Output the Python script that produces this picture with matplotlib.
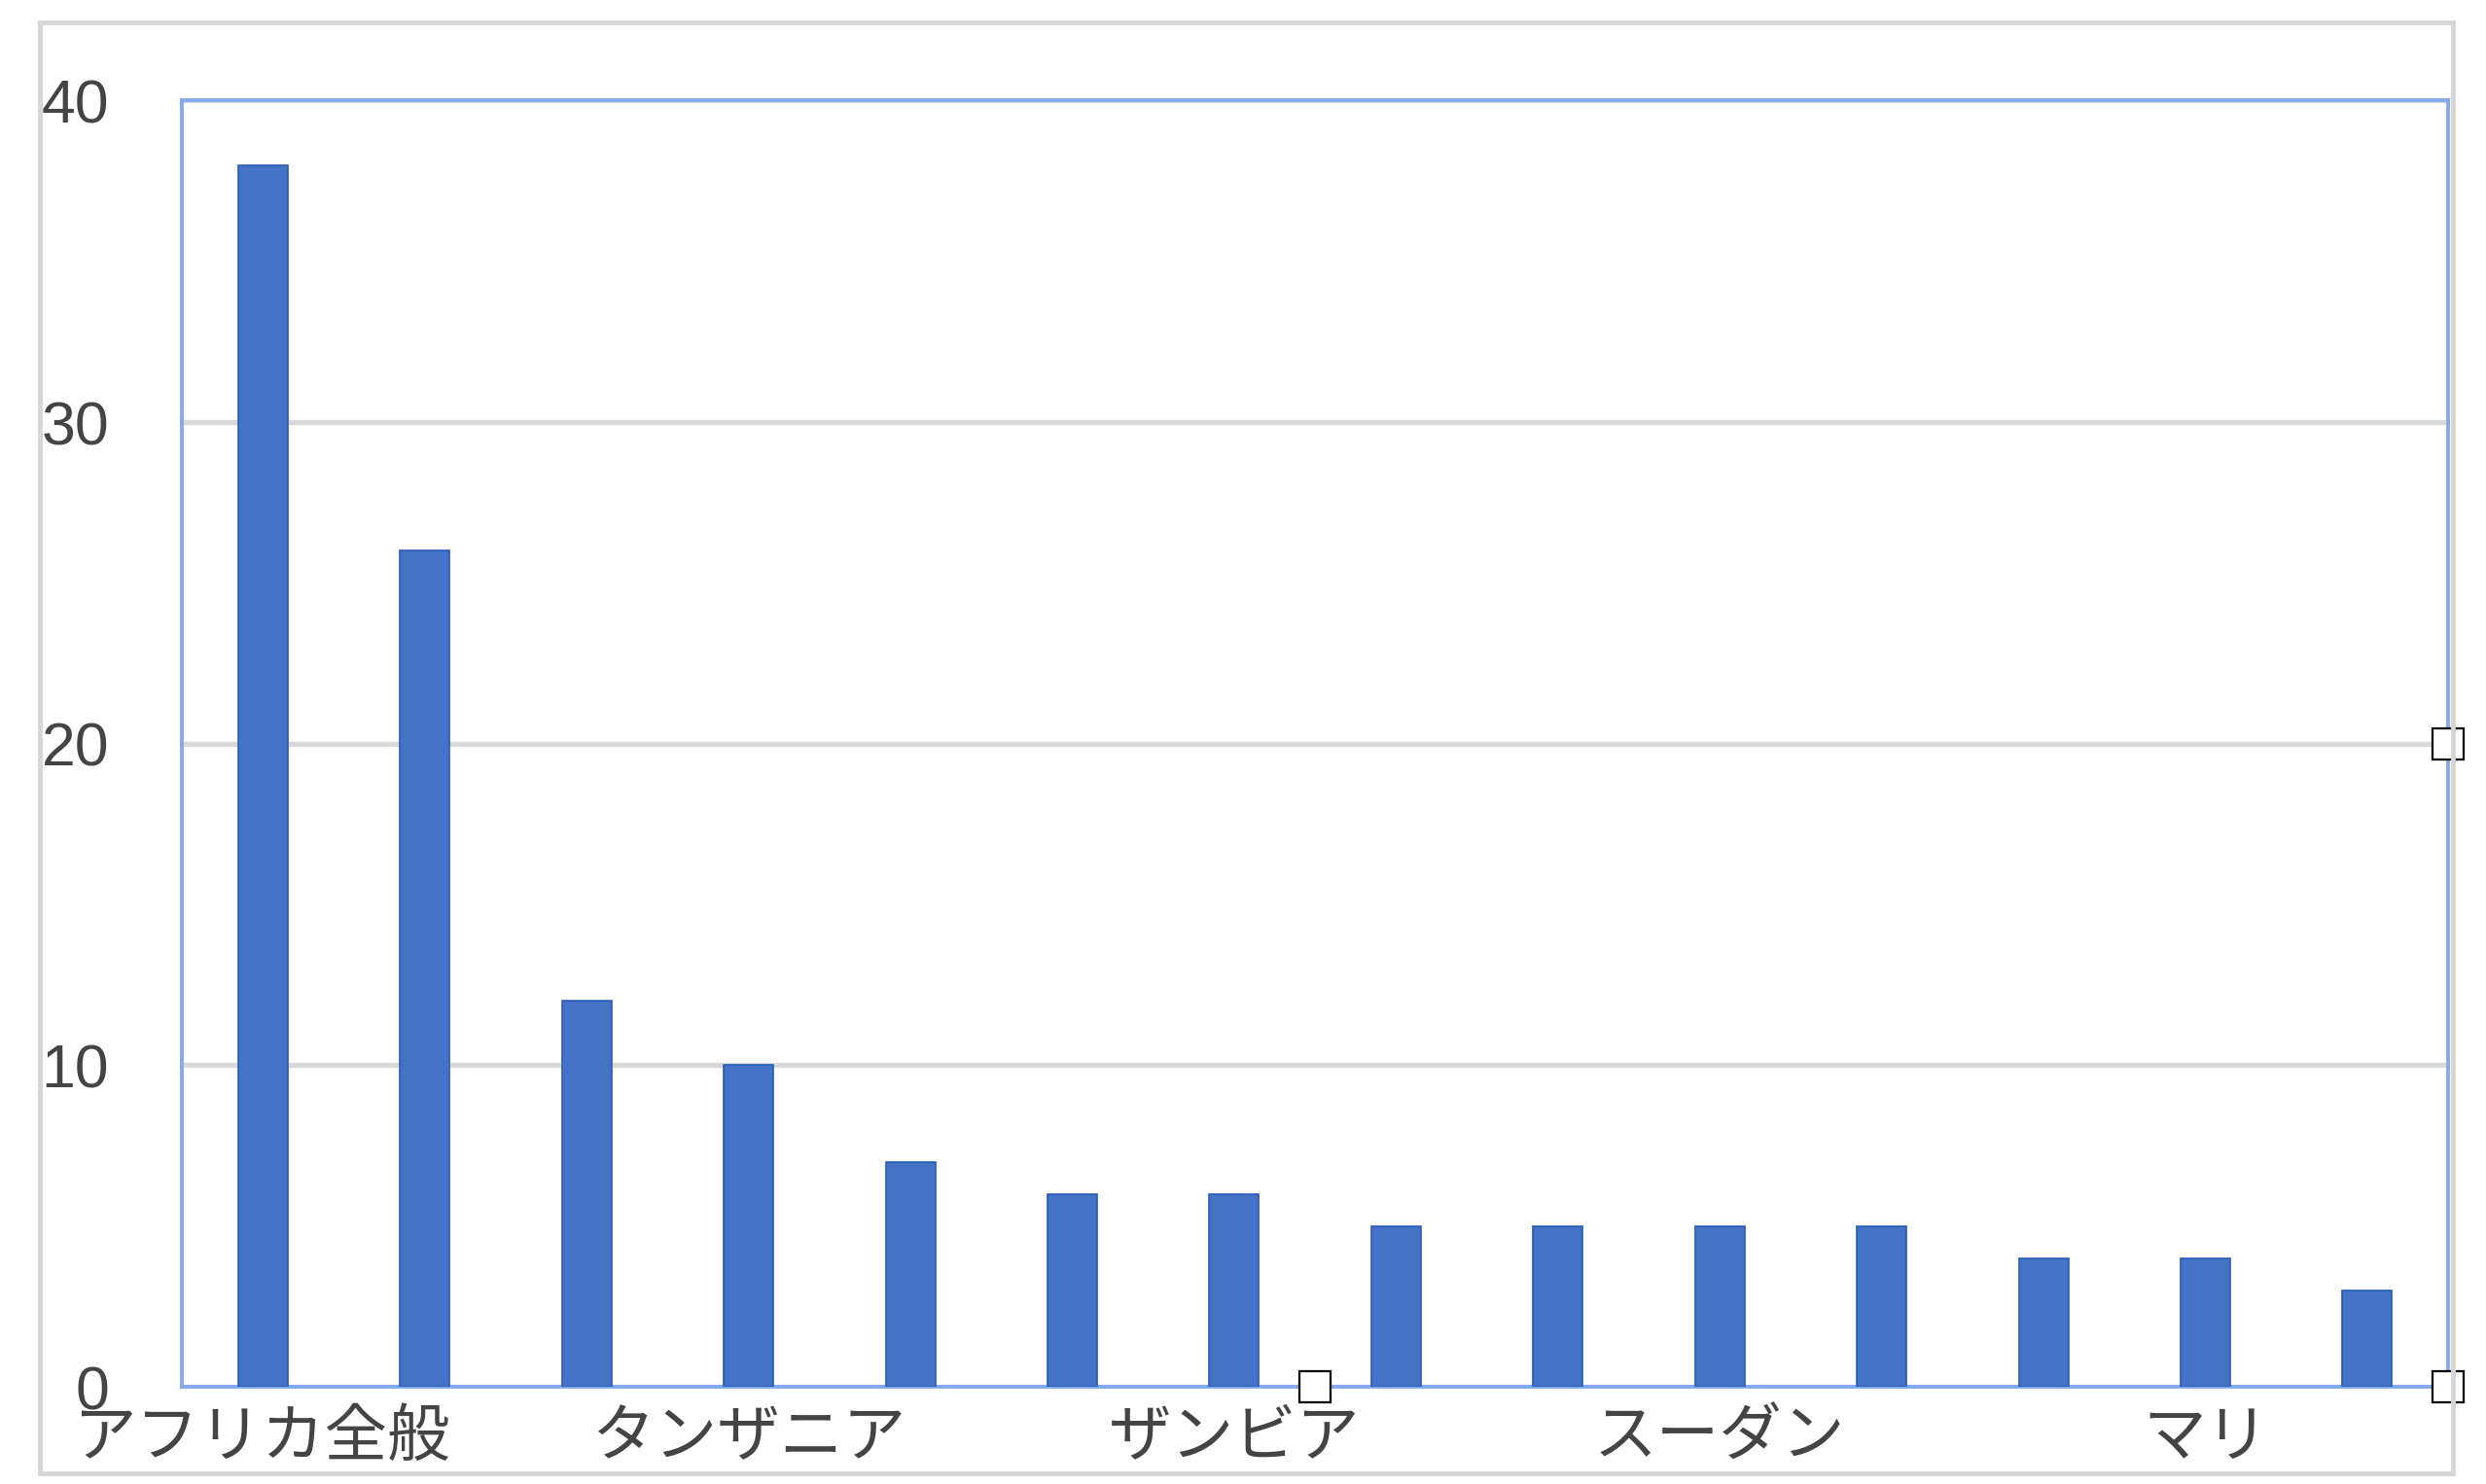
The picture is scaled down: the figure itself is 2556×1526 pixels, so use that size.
import matplotlib
matplotlib.use("Agg")
import matplotlib.pyplot as plt
from matplotlib.patches import Rectangle

plt.rcParams['font.family'] = ['Liberation Sans', 'Noto Sans CJK JP', 'DejaVu Sans']

# data
categories = ["アフリカ全般", "", "", "タンザニア", "", "", "ザンビア", "", "",
              "スーダン", "", "", "マリ", ""]
values = [38, 26, 12, 10, 7, 6, 6, 5, 5, 5, 5, 4, 4, 3]
yticks = [0, 10, 20, 30, 40]

fig = plt.figure(figsize=(25.56, 15.26), dpi=100)
fig.patch.set_facecolor("white")

# outer chart border
fig.patches.append(Rectangle((0.016, 0.0072), 0.9707, 0.9778, transform=fig.transFigure,
                             fill=False, edgecolor="#d6d6d6", linewidth=3.5, zorder=0))

ax = fig.add_axes([0.0732, 0.0655, 0.9116, 0.8667])
x = list(range(len(values)))
ax.bar(x, values, width=0.306, color="#4472c4", edgecolor="#2a5cb8", linewidth=1.2, zorder=3)

ax.set_xlim(-0.5, len(values) - 0.5)
ax.set_ylim(0, 40)
ax.set_yticks(yticks)
ax.set_yticklabels([str(t) for t in yticks])
ax.set_xticks(x)
ax.set_xticklabels(categories)

ax.yaxis.grid(True, color="#d9d9d9", linewidth=3.8, zorder=0)
ax.set_axisbelow(True)
ax.tick_params(axis="both", length=0, labelsize=45, labelcolor="#444444")
ax.tick_params(axis="x", labelsize=46.5)
ax.tick_params(axis="y", pad=54)
ax.tick_params(axis="x", pad=17)
for lbl in ax.get_yticklabels():
    lbl.set_verticalalignment("center_baseline")

for s in ax.spines.values():
    s.set_color("#84a9f0")
    s.set_linewidth(2.8)

# selection handles
for hx, hy in [(0.5, 0.0), (1.0, 0.5), (1.0, 0.0)]:
    ax.plot(hx, hy, marker="s", markersize=23, markerfacecolor="white",
            markeredgecolor="black", markeredgewidth=1.6, transform=ax.transAxes,
            clip_on=False, zorder=10)

fig.savefig("out.png", dpi=100, facecolor="white")
